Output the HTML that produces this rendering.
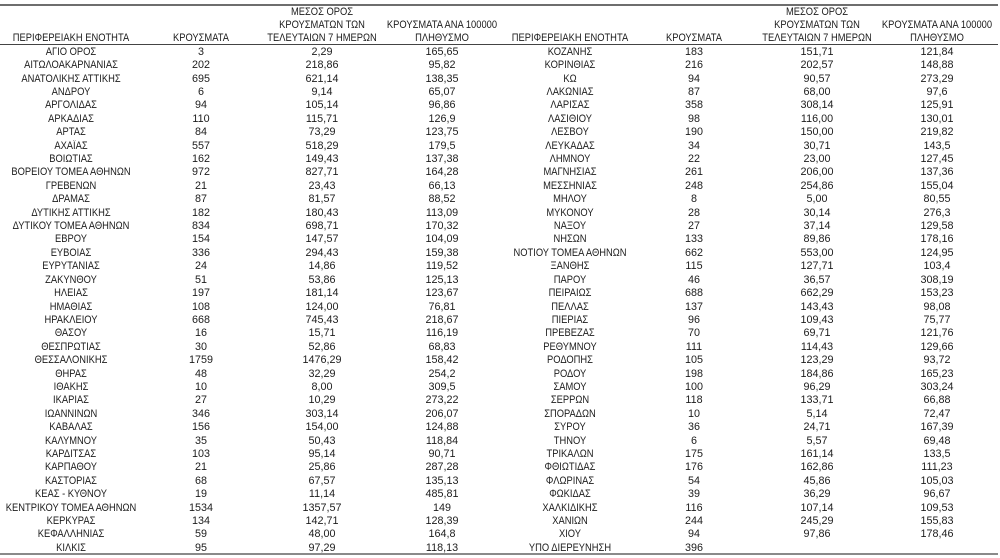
<!DOCTYPE html>
<html><head><meta charset="utf-8">
<style>
html,body{margin:0;padding:0;background:#fff;}
body{width:1000px;height:558px;position:relative;overflow:hidden;font-family:"Liberation Sans","Noto Sans CJK SC",sans-serif;font-size:11px;color:#1c1c1c;}
.ln{position:absolute;left:0;width:998px;}
.hd{position:absolute;left:0;top:6.2px;width:1000px;}
.body{position:absolute;left:0;top:45.8px;width:1000px;}
.r{position:relative;height:13.42px;line-height:13.42px;white-space:nowrap;}
.hr{position:relative;height:13px;line-height:13.42px;white-space:nowrap;}
.r span,.hr span{position:absolute;top:0;width:200px;text-align:center;transform:scaleX(.85);}
.r span.b,.r span.c,.r span.d,.r span.f,.r span.g,.r span.h{transform:scaleX(.98);}
.a{left:-29px}.b{left:101px}.c{left:222px}.d{left:342px}
.e{left:470px}.f{left:594px}.g{left:717px}.h{left:837px}
</style></head><body>
<div class="ln" style="top:4px;height:2px;background:#6e6e6e"></div>
<div class="ln" style="top:44px;height:1px;background:#444"></div>
<div class="ln" style="top:553px;height:2px;background:#8a8a8a"></div>

<div class="hd">
<div class="hr"><span class="c">ΜΕΣΟΣ ΟΡΟΣ</span><span class="g">ΜΕΣΟΣ ΟΡΟΣ</span></div>
<div class="hr"><span class="c">ΚΡΟΥΣΜΑΤΩΝ ΤΩΝ</span><span class="d">ΚΡΟΥΣΜΑΤΑ ΑΝΑ 100000</span><span class="g">ΚΡΟΥΣΜΑΤΩΝ ΤΩΝ</span><span class="h">ΚΡΟΥΣΜΑΤΑ ΑΝΑ 100000</span></div>
<div class="hr"><span class="a">ΠΕΡΙΦΕΡΕΙΑΚΗ ΕΝΟΤΗΤΑ</span><span class="b">ΚΡΟΥΣΜΑΤΑ</span><span class="c">ΤΕΛΕΥΤΑΙΩΝ 7 ΗΜΕΡΩΝ</span><span class="d">ΠΛΗΘΥΣΜΟ</span><span class="e">ΠΕΡΙΦΕΡΕΙΑΚΗ ΕΝΟΤΗΤΑ</span><span class="f">ΚΡΟΥΣΜΑΤΑ</span><span class="g">ΤΕΛΕΥΤΑΙΩΝ 7 ΗΜΕΡΩΝ</span><span class="h">ΠΛΗΘΥΣΜΟ</span></div>
</div>

<div class="body">
<div class="r"><span class="a">ΑΓΙΟ ΟΡΟΣ</span><span class="b">3</span><span class="c">2,29</span><span class="d">165,65</span><span class="e">ΚΟΖΑΝΗΣ</span><span class="f">183</span><span class="g">151,71</span><span class="h">121,84</span></div>
<div class="r"><span class="a">ΑΙΤΩΛΟΑΚΑΡΝΑΝΙΑΣ</span><span class="b">202</span><span class="c">218,86</span><span class="d">95,82</span><span class="e">ΚΟΡΙΝΘΙΑΣ</span><span class="f">216</span><span class="g">202,57</span><span class="h">148,88</span></div>
<div class="r"><span class="a">ΑΝΑΤΟΛΙΚΗΣ ΑΤΤΙΚΗΣ</span><span class="b">695</span><span class="c">621,14</span><span class="d">138,35</span><span class="e">ΚΩ</span><span class="f">94</span><span class="g">90,57</span><span class="h">273,29</span></div>
<div class="r"><span class="a">ΑΝΔΡΟΥ</span><span class="b">6</span><span class="c">9,14</span><span class="d">65,07</span><span class="e">ΛΑΚΩΝΙΑΣ</span><span class="f">87</span><span class="g">68,00</span><span class="h">97,6</span></div>
<div class="r"><span class="a">ΑΡΓΟΛΙΔΑΣ</span><span class="b">94</span><span class="c">105,14</span><span class="d">96,86</span><span class="e">ΛΑΡΙΣΑΣ</span><span class="f">358</span><span class="g">308,14</span><span class="h">125,91</span></div>
<div class="r"><span class="a">ΑΡΚΑΔΙΑΣ</span><span class="b">110</span><span class="c">115,71</span><span class="d">126,9</span><span class="e">ΛΑΣΙΘΙΟΥ</span><span class="f">98</span><span class="g">116,00</span><span class="h">130,01</span></div>
<div class="r"><span class="a">ΑΡΤΑΣ</span><span class="b">84</span><span class="c">73,29</span><span class="d">123,75</span><span class="e">ΛΕΣΒΟΥ</span><span class="f">190</span><span class="g">150,00</span><span class="h">219,82</span></div>
<div class="r"><span class="a">ΑΧΑΪΑΣ</span><span class="b">557</span><span class="c">518,29</span><span class="d">179,5</span><span class="e">ΛΕΥΚΑΔΑΣ</span><span class="f">34</span><span class="g">30,71</span><span class="h">143,5</span></div>
<div class="r"><span class="a">ΒΟΙΩΤΙΑΣ</span><span class="b">162</span><span class="c">149,43</span><span class="d">137,38</span><span class="e">ΛΗΜΝΟΥ</span><span class="f">22</span><span class="g">23,00</span><span class="h">127,45</span></div>
<div class="r"><span class="a">ΒΟΡΕΙΟΥ ΤΟΜΕΑ ΑΘΗΝΩΝ</span><span class="b">972</span><span class="c">827,71</span><span class="d">164,28</span><span class="e">ΜΑΓΝΗΣΙΑΣ</span><span class="f">261</span><span class="g">206,00</span><span class="h">137,36</span></div>
<div class="r"><span class="a">ΓΡΕΒΕΝΩΝ</span><span class="b">21</span><span class="c">23,43</span><span class="d">66,13</span><span class="e">ΜΕΣΣΗΝΙΑΣ</span><span class="f">248</span><span class="g">254,86</span><span class="h">155,04</span></div>
<div class="r"><span class="a">ΔΡΑΜΑΣ</span><span class="b">87</span><span class="c">81,57</span><span class="d">88,52</span><span class="e">ΜΗΛΟΥ</span><span class="f">8</span><span class="g">5,00</span><span class="h">80,55</span></div>
<div class="r"><span class="a">ΔΥΤΙΚΗΣ ΑΤΤΙΚΗΣ</span><span class="b">182</span><span class="c">180,43</span><span class="d">113,09</span><span class="e">ΜΥΚΟΝΟΥ</span><span class="f">28</span><span class="g">30,14</span><span class="h">276,3</span></div>
<div class="r"><span class="a">ΔΥΤΙΚΟΥ ΤΟΜΕΑ ΑΘΗΝΩΝ</span><span class="b">834</span><span class="c">698,71</span><span class="d">170,32</span><span class="e">ΝΑΞΟΥ</span><span class="f">27</span><span class="g">37,14</span><span class="h">129,58</span></div>
<div class="r"><span class="a">ΕΒΡΟΥ</span><span class="b">154</span><span class="c">147,57</span><span class="d">104,09</span><span class="e">ΝΗΣΩΝ</span><span class="f">133</span><span class="g">89,86</span><span class="h">178,16</span></div>
<div class="r"><span class="a">ΕΥΒΟΙΑΣ</span><span class="b">336</span><span class="c">294,43</span><span class="d">159,38</span><span class="e">ΝΟΤΙΟΥ ΤΟΜΕΑ ΑΘΗΝΩΝ</span><span class="f">662</span><span class="g">553,00</span><span class="h">124,95</span></div>
<div class="r"><span class="a">ΕΥΡΥΤΑΝΙΑΣ</span><span class="b">24</span><span class="c">14,86</span><span class="d">119,52</span><span class="e">ΞΑΝΘΗΣ</span><span class="f">115</span><span class="g">127,71</span><span class="h">103,4</span></div>
<div class="r"><span class="a">ΖΑΚΥΝΘΟΥ</span><span class="b">51</span><span class="c">53,86</span><span class="d">125,13</span><span class="e">ΠΑΡΟΥ</span><span class="f">46</span><span class="g">36,57</span><span class="h">308,19</span></div>
<div class="r"><span class="a">ΗΛΕΙΑΣ</span><span class="b">197</span><span class="c">181,14</span><span class="d">123,67</span><span class="e">ΠΕΙΡΑΙΩΣ</span><span class="f">688</span><span class="g">662,29</span><span class="h">153,23</span></div>
<div class="r"><span class="a">ΗΜΑΘΙΑΣ</span><span class="b">108</span><span class="c">124,00</span><span class="d">76,81</span><span class="e">ΠΕΛΛΑΣ</span><span class="f">137</span><span class="g">143,43</span><span class="h">98,08</span></div>
<div class="r"><span class="a">ΗΡΑΚΛΕΙΟΥ</span><span class="b">668</span><span class="c">745,43</span><span class="d">218,67</span><span class="e">ΠΙΕΡΙΑΣ</span><span class="f">96</span><span class="g">109,43</span><span class="h">75,77</span></div>
<div class="r"><span class="a">ΘΑΣΟΥ</span><span class="b">16</span><span class="c">15,71</span><span class="d">116,19</span><span class="e">ΠΡΕΒΕΖΑΣ</span><span class="f">70</span><span class="g">69,71</span><span class="h">121,76</span></div>
<div class="r"><span class="a">ΘΕΣΠΡΩΤΙΑΣ</span><span class="b">30</span><span class="c">52,86</span><span class="d">68,83</span><span class="e">ΡΕΘΥΜΝΟΥ</span><span class="f">111</span><span class="g">114,43</span><span class="h">129,66</span></div>
<div class="r"><span class="a">ΘΕΣΣΑΛΟΝΙΚΗΣ</span><span class="b">1759</span><span class="c">1476,29</span><span class="d">158,42</span><span class="e">ΡΟΔΟΠΗΣ</span><span class="f">105</span><span class="g">123,29</span><span class="h">93,72</span></div>
<div class="r"><span class="a">ΘΗΡΑΣ</span><span class="b">48</span><span class="c">32,29</span><span class="d">254,2</span><span class="e">ΡΟΔΟΥ</span><span class="f">198</span><span class="g">184,86</span><span class="h">165,23</span></div>
<div class="r"><span class="a">ΙΘΑΚΗΣ</span><span class="b">10</span><span class="c">8,00</span><span class="d">309,5</span><span class="e">ΣΑΜΟΥ</span><span class="f">100</span><span class="g">96,29</span><span class="h">303,24</span></div>
<div class="r"><span class="a">ΙΚΑΡΙΑΣ</span><span class="b">27</span><span class="c">10,29</span><span class="d">273,22</span><span class="e">ΣΕΡΡΩΝ</span><span class="f">118</span><span class="g">133,71</span><span class="h">66,88</span></div>
<div class="r"><span class="a">ΙΩΑΝΝΙΝΩΝ</span><span class="b">346</span><span class="c">303,14</span><span class="d">206,07</span><span class="e">ΣΠΟΡΑΔΩΝ</span><span class="f">10</span><span class="g">5,14</span><span class="h">72,47</span></div>
<div class="r"><span class="a">ΚΑΒΑΛΑΣ</span><span class="b">156</span><span class="c">154,00</span><span class="d">124,88</span><span class="e">ΣΥΡΟΥ</span><span class="f">36</span><span class="g">24,71</span><span class="h">167,39</span></div>
<div class="r"><span class="a">ΚΑΛΥΜΝΟΥ</span><span class="b">35</span><span class="c">50,43</span><span class="d">118,84</span><span class="e">ΤΗΝΟΥ</span><span class="f">6</span><span class="g">5,57</span><span class="h">69,48</span></div>
<div class="r"><span class="a">ΚΑΡΔΙΤΣΑΣ</span><span class="b">103</span><span class="c">95,14</span><span class="d">90,71</span><span class="e">ΤΡΙΚΑΛΩΝ</span><span class="f">175</span><span class="g">161,14</span><span class="h">133,5</span></div>
<div class="r"><span class="a">ΚΑΡΠΑΘΟΥ</span><span class="b">21</span><span class="c">25,86</span><span class="d">287,28</span><span class="e">ΦΘΙΩΤΙΔΑΣ</span><span class="f">176</span><span class="g">162,86</span><span class="h">111,23</span></div>
<div class="r"><span class="a">ΚΑΣΤΟΡΙΑΣ</span><span class="b">68</span><span class="c">67,57</span><span class="d">135,13</span><span class="e">ΦΛΩΡΙΝΑΣ</span><span class="f">54</span><span class="g">45,86</span><span class="h">105,03</span></div>
<div class="r"><span class="a">ΚΕΑΣ - ΚΥΘΝΟΥ</span><span class="b">19</span><span class="c">11,14</span><span class="d">485,81</span><span class="e">ΦΩΚΙΔΑΣ</span><span class="f">39</span><span class="g">36,29</span><span class="h">96,67</span></div>
<div class="r"><span class="a">ΚΕΝΤΡΙΚΟΥ ΤΟΜΕΑ ΑΘΗΝΩΝ</span><span class="b">1534</span><span class="c">1357,57</span><span class="d">149</span><span class="e">ΧΑΛΚΙΔΙΚΗΣ</span><span class="f">116</span><span class="g">107,14</span><span class="h">109,53</span></div>
<div class="r"><span class="a">ΚΕΡΚΥΡΑΣ</span><span class="b">134</span><span class="c">142,71</span><span class="d">128,39</span><span class="e">ΧΑΝΙΩΝ</span><span class="f">244</span><span class="g">245,29</span><span class="h">155,83</span></div>
<div class="r"><span class="a">ΚΕΦΑΛΛΗΝΙΑΣ</span><span class="b">59</span><span class="c">48,00</span><span class="d">164,8</span><span class="e">ΧΙΟΥ</span><span class="f">94</span><span class="g">97,86</span><span class="h">178,46</span></div>
<div class="r"><span class="a">ΚΙΛΚΙΣ</span><span class="b">95</span><span class="c">97,29</span><span class="d">118,13</span><span class="e">ΥΠΟ ΔΙΕΡΕΥΝΗΣΗ</span><span class="f">396</span></div>
</div>
</body></html>
